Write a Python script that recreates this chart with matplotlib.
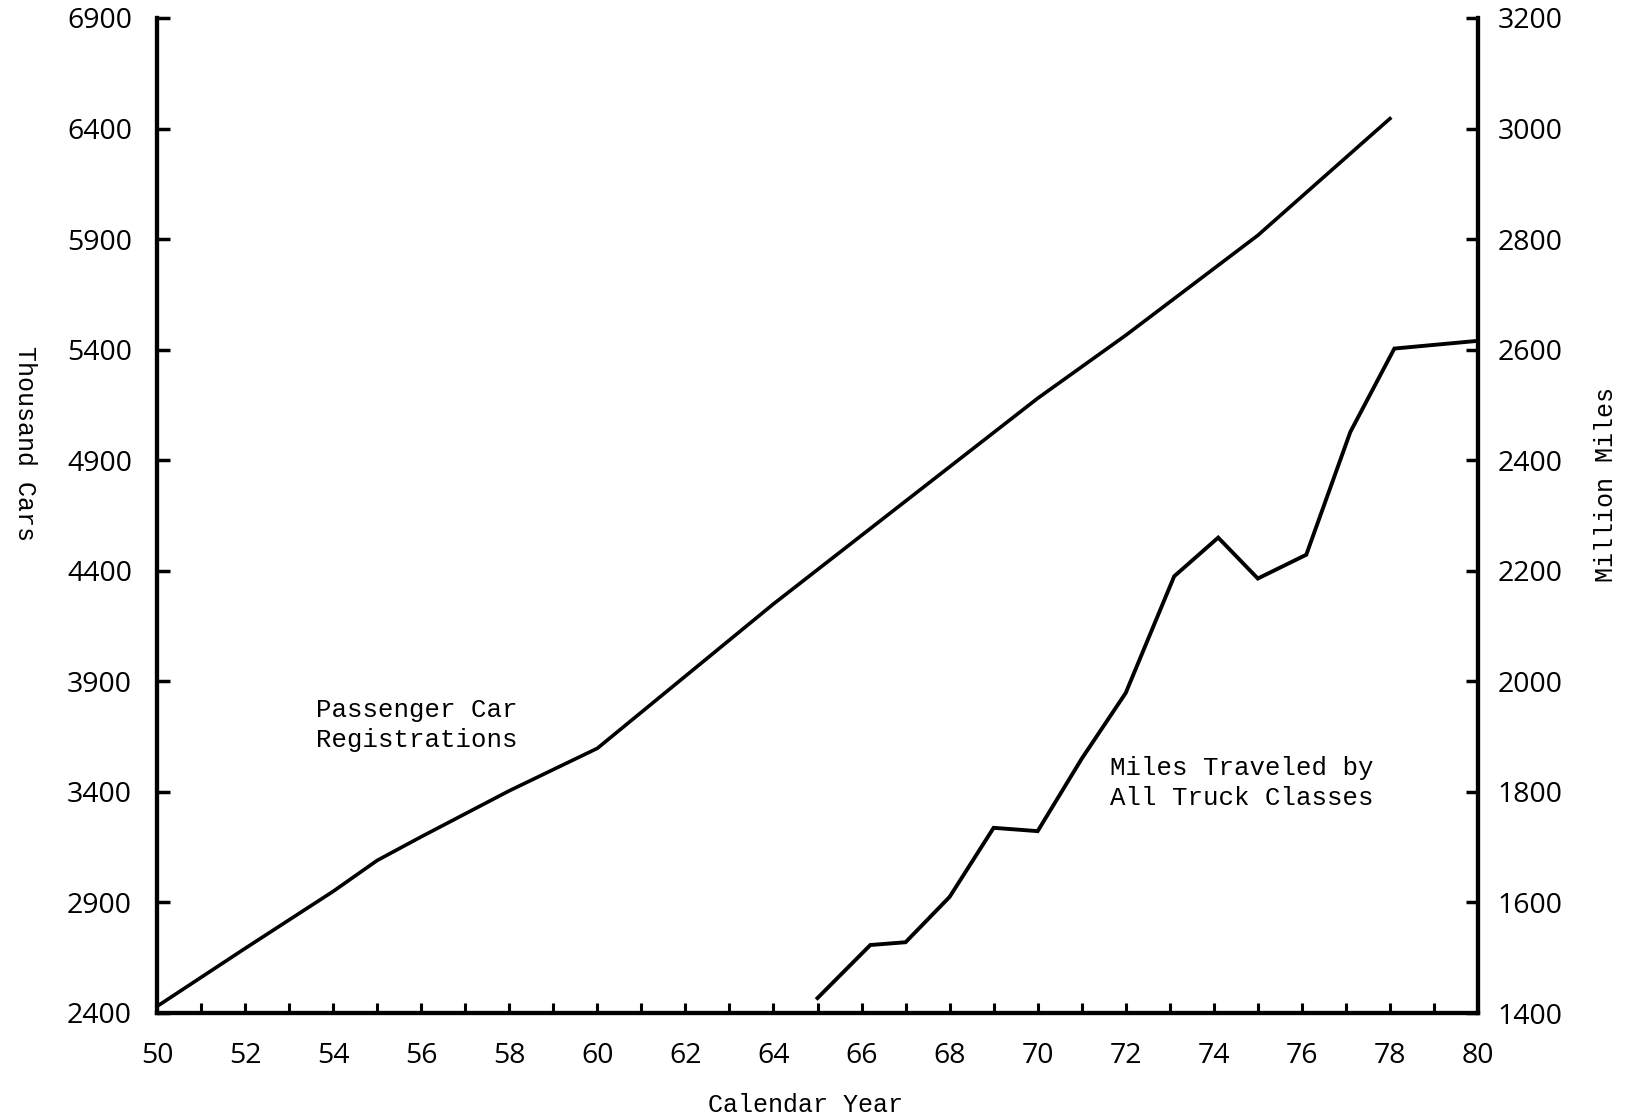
"""Passenger car registrations vs. truck miles traveled, 1950-1980 (dual axis)."""
import matplotlib
matplotlib.use('Agg')
import matplotlib.pyplot as plt

# --- data ---
car_years = [50, 52, 54, 55, 56, 58, 60, 64, 68, 70, 72, 75, 78]
car_regs = [2430, 2692, 2950, 3090, 3197, 3405, 3597, 4250, 4870, 5180, 5465, 5917, 6445]

truck_years = [65, 66.2, 67, 68, 69, 70, 71, 72, 73.1, 74.1, 75, 76.1, 77.1, 78.1, 80]
truck_miles = [1427, 1523, 1528, 1610, 1735, 1729, 1860, 1979, 2190, 2260, 2186,
               2229, 2451, 2602, 2616]

left_ticks = [2400, 2900, 3400, 3900, 4400, 4900, 5400, 5900, 6400, 6900]
right_ticks = [1400, 1600, 1800, 2000, 2200, 2400, 2600, 2800, 3000, 3200]
x_major = list(range(50, 81, 2))
x_minor = list(range(51, 80, 2))

MONO = 'Liberation Mono'
NUM = 'Open Sans'
W, H = 1625, 1120

fig = plt.figure(figsize=(W / 100, H / 100), dpi=100)
ax = fig.add_axes([157 / W, 1 - 1013 / H, (1478 - 157) / W, (1013 - 18) / H])
ax2 = ax.twinx()

ax.plot(car_years, car_regs, color='black', lw=2.6, solid_joinstyle='miter')
ax2.plot(truck_years, truck_miles, color='black', lw=2.8, solid_joinstyle='miter')

ax.set_xlim(50, 80)
ax.set_ylim(2400, 6900)
ax2.set_ylim(1400, 3200)

for a in (ax, ax2):
    a.spines['top'].set_visible(False)
    for s in ('left', 'right', 'bottom'):
        a.spines[s].set_linewidth(3)

ax.set_xticks(x_major)
ax.set_xticks(x_minor, minor=True)
ax.set_xticklabels([str(v) for v in x_major], fontfamily=NUM, fontsize=20.5)
ax.tick_params(axis='x', which='both', direction='in', length=7, width=2.2, pad=21)

ax.set_yticks(left_ticks)
ax.set_yticklabels([str(v) for v in left_ticks], fontfamily=NUM, fontsize=20.5)
ax.tick_params(axis='y', direction='in', length=9, width=2.5, pad=18)

ax2.set_yticks(right_ticks)
ax2.set_yticklabels([str(v) for v in right_ticks], fontfamily=NUM, fontsize=20.5)
ax2.tick_params(axis='y', direction='in', length=9, width=2.5, pad=14)

# axis titles in typewriter face
fig.text(25 / W, 1 - 443 / H, 'Thousand Cars', rotation=270, ha='center', va='center',
         family=MONO, fontsize=18)
fig.text(1606 / W, 1 - 485 / H, 'Million Miles', rotation=90, ha='center', va='center',
         family=MONO, fontsize=18)
fig.text(806 / W, 1 - 1105 / H, 'Calendar Year', ha='center', va='center',
         family=MONO, fontsize=18)

# series annotations
fig.text(316 / W, 1 - 725 / H, 'Passenger Car\nRegistrations', ha='left', va='center',
         family=MONO, fontsize=18.5, linespacing=1.3)
fig.text(1110 / W, 1 - 783 / H, 'Miles Traveled by\nAll Truck Classes', ha='left',
         va='center', family=MONO, fontsize=18.5, linespacing=1.3)

fig.savefig('out.png', dpi=100, facecolor='white')
